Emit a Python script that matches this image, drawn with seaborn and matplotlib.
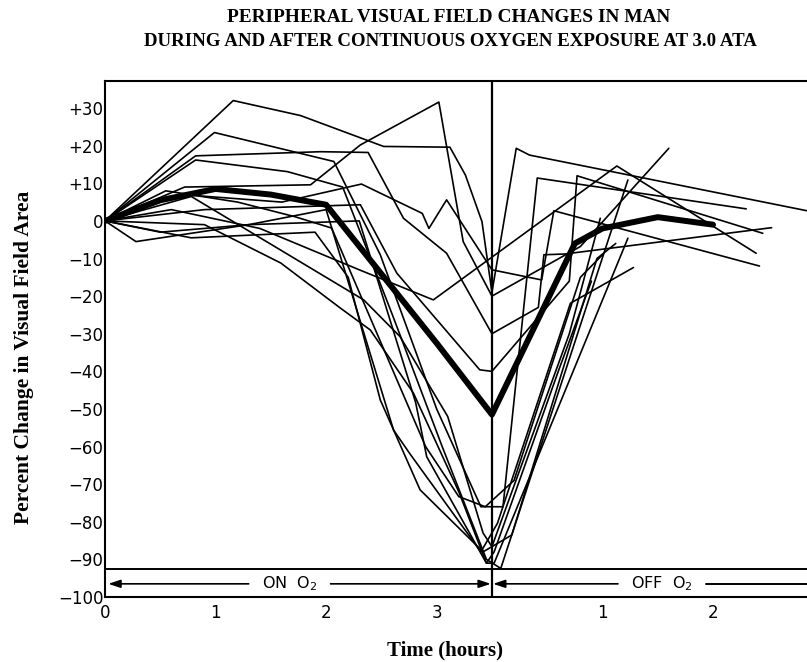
import matplotlib
matplotlib.use("Agg")
import matplotlib.pyplot as plt
import seaborn as sns
import pandas as pd

sns.set_theme(style="white")
plt.rcParams['font.family'] = ['DejaVu Sans']
plt.rcParams['text.color'] = 'black'

TITLE_LINES = ["PERIPHERAL VISUAL FIELD CHANGES IN MAN",
               "DURING AND AFTER CONTINUOUS OXYGEN EXPOSURE AT 3.0 ATA"]
Y_LABEL = "Percent Change in Visual Field Area"
X_LABEL = "Time (hours)"

# x = elapsed hours (exposure ends at 3.5 h; post-exposure hours are 3.5 + h)
END_OF_EXPOSURE = 3.5
X_TICKS = [0, 1, 2, 3, 4.5, 5.5]
X_TICK_LABELS = ["0", "1", "2", "3", "1", "2"]
Y_TICKS = [30, 20, 10, 0, -10, -20, -30, -40, -50, -60, -70, -80, -90, -100]
Y_TICK_LABELS = ["+30", "+20", "+10", "0", "\u221210", "\u221220", "\u221230", "\u221240",
                 "\u221250", "\u221260", "\u221270", "\u221280", "\u221290", "\u2212100"]

# individual subjects: (hours, percent change)
s01 = [(0, 0), (1.16, 32), (1.77, 28), (2.52, 19.8), (3.12, 19.6), (3.26, 12.2), (3.41, -0.2),
       (3.5, -19), (3.72, 19.3), (3.84, 17.5), (6.35, 2.7)]
s02 = [(0, 0), (0.99, 23.5), (2.07, 15.8), (2.49, -9), (3.0, -50), (3.4, -76), (3.6, -76),
       (3.91, 11.4), (5.8, 3.2)]
s03 = [(0, 0), (0.72, 9), (1.86, 9.6), (2.31, 20.2), (3.02, 31.6), (3.24, -5.5), (3.5, -20),
       (4.3, -6.8), (5.1, 19.3)]
s04 = [(0, 0), (0.82, 17.3), (1.95, 18.4), (2.38, 18.2), (2.7, 0.7), (3.09, -8.6), (3.5, -30),
       (3.92, -23), (3.97, -9), (4.16, -8.8), (6.03, -1.8)]
s05 = [(0, 0), (0.82, 16.2), (1.65, 13.1), (2.15, 9), (2.6, -25), (3.05, -60), (3.45, -90),
       (3.58, -92.4), (4.73, 10.9)]
s06 = [(0, 0), (0.7, 7), (1.6, 5), (2.32, 9.8), (2.87, 2), (2.93, -2), (3.09, 5.6), (3.5, -13),
       (3.95, -15.7), (4.06, 2.7), (5.92, -12)]
s07 = [(0, 0), (0.9, 3), (1.77, 3.8), (2.31, 4.3), (2.64, -13.9), (3.39, -39.6), (3.5, -40),
       (4.2, -16), (4.27, 12), (5.95, -3.3)]
s08 = [(0, 0), (0.6, 3), (1.4, -2), (2.3, -13), (2.97, -21), (4.63, 14.6), (5.89, -8.6)]
s09 = [(0, 0), (0.78, 6.5), (2.34, -21), (2.67, -30.8), (3.1, -52), (3.42, -83), (3.5, -86.6),
       (4.2, -30), (4.48, 0.7)]
s10 = [(0, 0), (0.9, -1), (1.59, -11.2), (2.13, -23.2), (2.4, -29), (2.79, -45.8), (3.2, -72),
       (3.45, -91), (3.52, -91), (4.73, -4.6)]
s11 = [(0, 0), (0.5, -3), (1.3, -1), (2.0, 3), (2.61, -55.6), (2.76, -62), (3.4, -88),
       (3.55, -80.4), (4.21, -21.9), (4.78, -12.4)]
s12 = [(0, 0), (0.28, -5.5), (1.3, -1), (2.3, 0), (2.81, -48.3), (2.91, -62.7), (3.45, -91),
       (3.52, -88), (4.1, -40), (4.4, -16)]
s13 = [(0, 0), (0.78, -4.5), (1.9, -3), (2.2, -15), (2.49, -47.6), (2.85, -71.5), (3.42, -88),
       (3.68, -83.5), (4.45, -10), (4.62, -6)]
s14 = [(0, 0), (0.55, 8), (1.2, 5), (1.72, 1.1), (2.05, -1.9), (2.9, -60), (3.2, -73.3),
       (3.44, -76), (3.7, -69), (4.3, -15), (4.5, -9)]

MEAN_T = [0, 0.5, 1.0, 1.5, 2.0, 3.0, 3.5, 4.25, 4.5, 5.0, 5.5]
MEAN_V = [0, 5.5, 8.5, 7.0, 4.3, -32.5, -51.5, -6, -2, 1, -1]

subjects = [s01, s02, s03, s04, s05, s06, s07, s08, s09, s10, s11, s12, s13, s14]
rows = []
for i, pts in enumerate(subjects):
    for t, v in pts:
        rows.append({"subject": i, "time": t, "pct": v})
df = pd.DataFrame(rows)

W, H = 807, 662
fig = plt.figure(figsize=(W / 100, H / 100), dpi=100)
ax_left, ax_bottom, ax_top = 105, 597, 81
ax = fig.add_axes([ax_left / W, (H - ax_bottom) / H, 1 - ax_left / W, (ax_bottom - ax_top) / H])

sns.lineplot(data=df, x="time", y="pct", units="subject", estimator=None, sort=False,
             color="black", lw=1.2, ax=ax, legend=False)
sns.lineplot(x=MEAN_T, y=MEAN_V, sort=False, color="black", lw=4.3, ax=ax)

ax.set_xlim(0, 6.35)
ax.set_ylim(-100, 37.2)
ax.axvline(END_OF_EXPOSURE, color="black", lw=1.6)
ax.axhline(-92.6, color="black", lw=1.4)

arrow_y = -96.5
head = dict(arrowstyle="-|>,head_length=0.6,head_width=0.2", color="black", lw=1.2,
            shrinkA=0, shrinkB=0)
ax.annotate("", xy=(0.03, arrow_y), xytext=(1.3, arrow_y), arrowprops=head)
ax.annotate("", xy=(END_OF_EXPOSURE - 0.01, arrow_y), xytext=(2.04, arrow_y), arrowprops=head)
ax.annotate("", xy=(END_OF_EXPOSURE + 0.01, arrow_y), xytext=(4.64, arrow_y), arrowprops=head)
ax.plot([5.44, 6.35], [arrow_y, arrow_y], color="black", lw=1.4)
ax.text(1.67, arrow_y, "ON  O$_2$", ha="center", va="center", fontsize=11.5, color="black")
ax.text(5.04, arrow_y, "OFF  O$_2$", ha="center", va="center", fontsize=11.5, color="black")

ax.set_xticks(X_TICKS)
ax.set_xticklabels(X_TICK_LABELS)
ax.set_yticks(Y_TICKS)
ax.set_yticklabels(Y_TICK_LABELS)
ax.tick_params(axis="both", direction="in", length=5, width=1.2, colors="black", labelsize=12)
ax.tick_params(axis="x", pad=5)
ax.tick_params(axis="y", pad=1)
ax.set_xlabel("")
ax.set_ylabel("")
for side in ["left", "top", "bottom"]:
    ax.spines[side].set_color("black")
    ax.spines[side].set_linewidth(1.5)
ax.spines["right"].set_visible(False)

serif = ["Liberation Serif", "DejaVu Serif"]
fig.text(449 / W, 1 - 18 / H, TITLE_LINES[0], ha="center", va="center",
         family=serif, weight="bold", fontsize=13.9, color="black")
fig.text(450 / W, 1 - 42 / H, TITLE_LINES[1], ha="center", va="center",
         family=serif, weight="bold", fontsize=13.6, color="black")
fig.text(24 / W, 1 - 357 / H, Y_LABEL, ha="center", va="center", rotation=90,
         family=serif, weight="bold", fontsize=15.5, color="black")
fig.text(445 / W, 1 - 650 / H, X_LABEL, ha="center", va="center",
         family=serif, weight="bold", fontsize=15, color="black")

fig.savefig("out.png", dpi=100, facecolor="white")
